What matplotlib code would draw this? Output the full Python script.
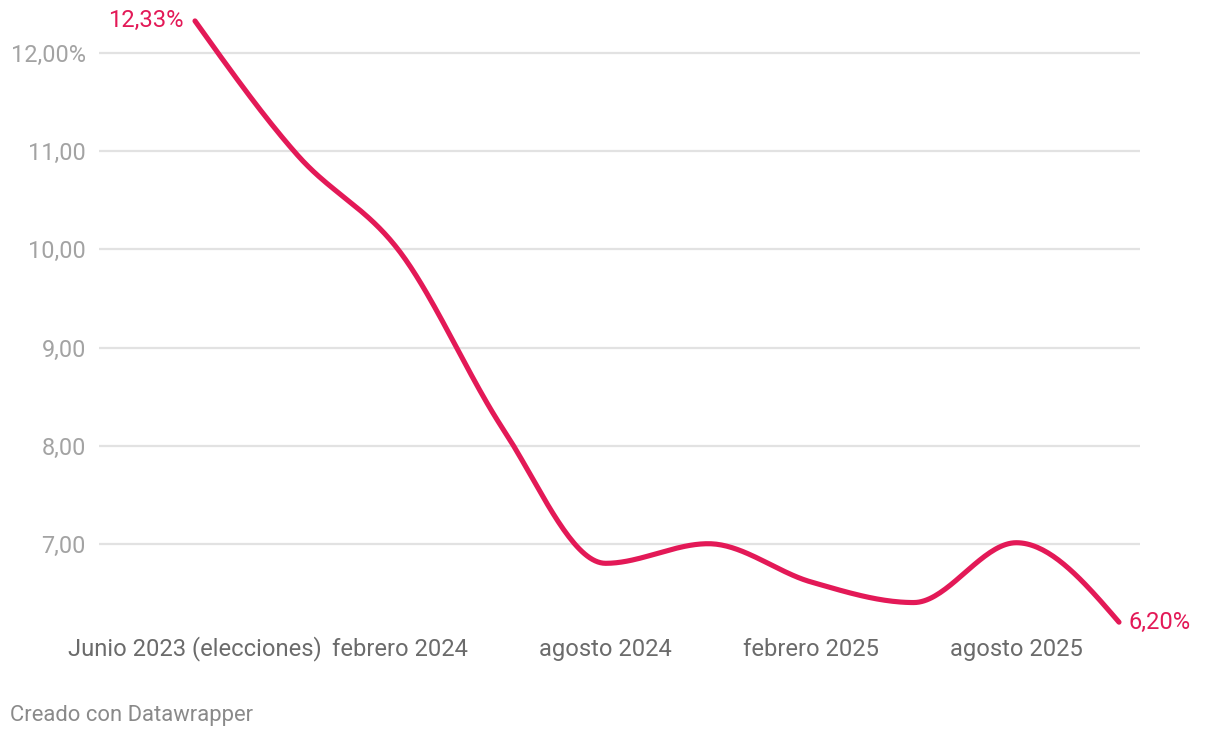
import numpy as np
import matplotlib
matplotlib.use("Agg")
import matplotlib.pyplot as plt

plt.rcParams['font.family'] = ['Roboto', 'DejaVu Sans']

# datos (cada punto es un trimestre)
periodos = ["Junio 2023 (elecciones)", "noviembre 2023", "febrero 2024", "mayo 2024",
            "agosto 2024", "noviembre 2024", "febrero 2025", "mayo 2025",
            "agosto 2025", "noviembre 2025"]
tasa = [12.33, 10.96, 9.97, 8.17, 6.80, 7.00, 6.61, 6.40, 7.01, 6.20]
y_ticks = [7, 8, 9, 10, 11, 12]
y_labels = ["7,00", "8,00", "9,00", "10,00", "11,00", "12,00%"]

ROJO = "#e31957"


def curva_monotona(x, y, n=40):
    # igual que d3.curveMonotoneX (la que usa Datawrapper)
    x = np.asarray(x, float); y = np.asarray(y, float)
    h = np.diff(x); s = np.diff(y) / h
    t = np.zeros(len(x))
    for i in range(1, len(x) - 1):
        p = (s[i-1]*h[i] + s[i]*h[i-1]) / (h[i-1] + h[i])
        t[i] = (np.sign(s[i-1]) + np.sign(s[i])) * min(abs(s[i-1]), abs(s[i]), 0.5*abs(p))
    t[0] = (3*s[0] - t[1]) / 2
    t[-1] = (3*s[-1] - t[-2]) / 2
    xs, ys = [], []
    u = np.linspace(0, 1, n)
    for i in range(len(x) - 1):
        dx = h[i] / 3
        px = [x[i], x[i]+dx, x[i+1]-dx, x[i+1]]
        py = [y[i], y[i]+dx*t[i], y[i+1]-dx*t[i+1], y[i+1]]
        b = [(1-u)**3, 3*u*(1-u)**2, 3*u**2*(1-u), u**3]
        xs.extend(sum(b[k]*px[k] for k in range(4)))
        ys.extend(sum(b[k]*py[k] for k in range(4)))
    return np.array(xs), np.array(ys)


W, H = 1220, 738
fig = plt.figure(figsize=(W/100, H/100), dpi=100)
# eje en pixeles: x 99..1140, y 10..630 (desde arriba)
ax = fig.add_axes([99/W, (H-630)/H, (1140-99)/W, 620/H])

paso = (1119 - 195) / 9
ax.set_xlim((99-195)/paso, (1140-195)/paso)
ax.set_ylim(7 - (630-543.7)/98.08, 12 + (53.3-10)/98.08)

for v in y_ticks:
    ax.axhline(v, color="#e2e2e2", lw=1.6, zorder=1)

idx = np.arange(len(tasa))
cx, cy = curva_monotona(idx, tasa)
ax.plot(cx, cy, color=ROJO, lw=3.7, solid_capstyle="round", zorder=3, clip_on=False)

ax.set_yticks(y_ticks)
ax.set_yticklabels(y_labels)
ax.set_xticks(idx[::2])
ax.set_xticklabels(periodos[::2])
ax.tick_params(axis="y", length=0, pad=9.5, labelsize=16.9, labelcolor="#a3a3a3")
ax.tick_params(axis="x", length=0, pad=18.5, labelsize=17.1, labelcolor="#6b6b6b")
for lb in ax.get_xticklabels():
    lb.set_verticalalignment("baseline")
for s in ax.spines.values():
    s.set_visible(False)

# etiquetas de inicio y fin
ax.annotate("12,33%", (idx[0], tasa[0]), xytext=(-8, 0), textcoords="offset points",
            ha="right", va="center", color=ROJO, fontsize=17.1)
ax.annotate("6,20%", (idx[-1], tasa[-1]), xytext=(7, 0), textcoords="offset points",
            ha="left", va="center", color=ROJO, fontsize=17.1)

fig.text(10/W, 1 - 716/H, "Creado con Datawrapper", ha="left", va="center",
         color="#8a8a8a", fontsize=15.8)

fig.savefig("out.png", dpi=100, facecolor="white")
